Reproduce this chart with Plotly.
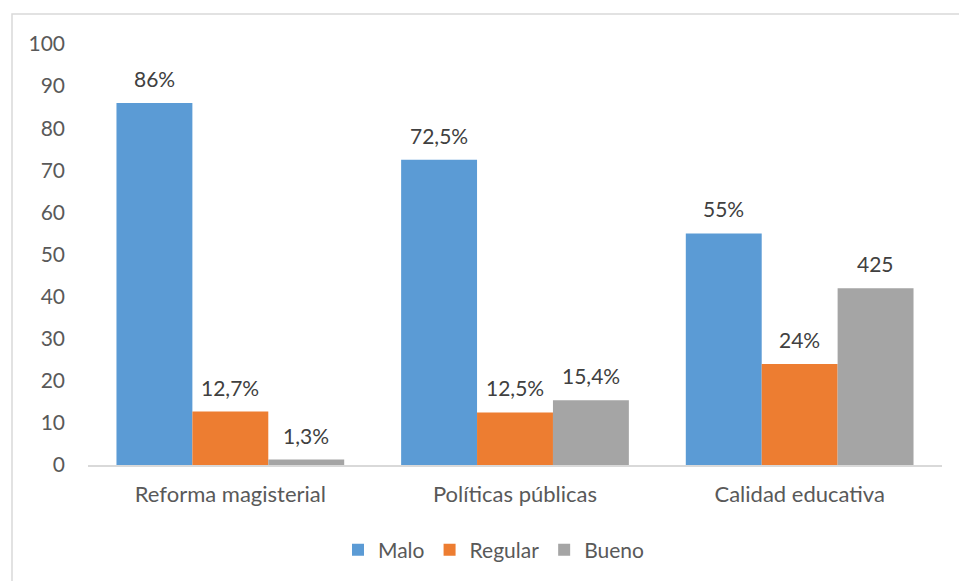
import plotly.graph_objects as go

categories = ["Reforma magisterial", "Políticas públicas", "Calidad educativa"]
series_names = ["Malo", "Regular", "Bueno"]
malo = [86, 72.5, 55]
regular = [12.7, 12.5, 24]
bueno = [1.3, 15.4, 42]
malo_labels = ["86%", "72,5%", "55%"]
regular_labels = ["12,7%", "12,5%", "24%"]
bueno_labels = ["1,3%", "15,4%", "425"]
colors = ["#5B9BD5", "#ED7D31", "#A5A5A5"]
y_ticks = list(range(0, 101, 10))

W, H = 959, 581
L, R, T, B = 88, 17, 44, 115
FONT = "Lato"
FS = 21

series = [malo, regular, bueno]
labels = [malo_labels, regular_labels, bueno_labels]
xs = list(range(len(categories)))

fig = go.Figure()
for name, vals, col in zip(series_names, series, colors):
    fig.add_trace(go.Bar(x=xs, y=vals, name=name, marker=dict(color=col, line=dict(width=0)),
                         hoverinfo="skip"))

bargap = 0.2
n = len(series)
bw = (1 - bargap) / n
for j, (vals, labs) in enumerate(zip(series, labels)):
    for i, (v, t) in enumerate(zip(vals, labs)):
        fig.add_annotation(x=xs[i] + (j - (n - 1) / 2) * bw, y=v, text=t, showarrow=False,
                           yanchor="bottom", yshift=10,
                           font=dict(family=FONT, size=FS, color="#404040"))

def px_x(p):
    return (p - L) / (W - L - R)

def px_y(p):
    return (H - B - p) / (H - T - B)

# chart-area border (top and left edges visible)
fig.add_shape(type="rect", xref="paper", yref="paper",
              x0=px_x(12), x1=px_x(990), y0=px_y(14), y1=px_y(620),
              line=dict(color="#D9D9D9", width=1.5), fillcolor="rgba(0,0,0,0)", layer="below")

fig.update_layout(
    width=W, height=H,
    margin=dict(l=L, r=R, t=T, b=B, pad=0),
    paper_bgcolor="white", plot_bgcolor="white",
    barmode="group", bargap=bargap, bargroupgap=0,
    font=dict(family=FONT, color="#595959", size=FS),
    showlegend=True,
    legend=dict(orientation="h", x=px_x(494), xanchor="center", y=px_y(550), yanchor="middle",
                font=dict(family=FONT, size=FS, color="#595959"), traceorder="normal",
                itemwidth=30),
    xaxis=dict(tickvals=xs, ticktext=categories, range=[-0.5, len(categories) - 0.5],
               showline=True, linecolor="#D9D9D9", linewidth=1.5, ticks="", showgrid=False,
               zeroline=False, ticklabelstandoff=9,
               tickfont=dict(family=FONT, size=22, color="#595959")),
    yaxis=dict(range=[0, 100], tickvals=y_ticks, showgrid=False, zeroline=False, showline=False,
               ticks="", ticklabelstandoff=22,
               tickfont=dict(family=FONT, size=FS, color="#595959")),
)

fig.write_html("out.html", config={"displayModeBar": False},
               post_script="document.body.style.margin='0px';document.body.style.overflow='hidden';")
